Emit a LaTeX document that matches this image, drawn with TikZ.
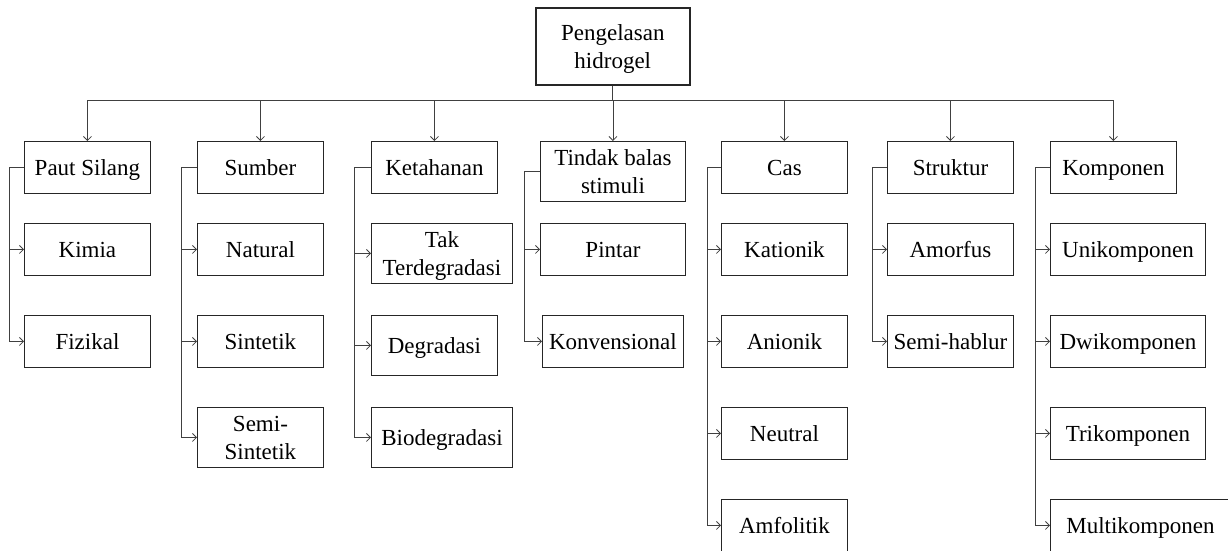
\documentclass[tikz,border=0pt]{standalone}
\usepackage{fontspec}
\setmainfont{Liberation Serif}
\usetikzlibrary{positioning, arrows.meta}

\begin{document}
\begin{tikzpicture}[
    x=1pt, y=-1pt,
    >={Straight Barb[length=4pt,width=8pt]},
    every node/.style={font=\fontsize{23}{28}\selectfont},
    box/.style={
      rectangle, anchor=north west,
      draw=black!85, line width=0.9pt,
      minimum width=#1, minimum height=52pt,
      text height=15.5pt, text depth=0pt,
      inner sep=0pt, align=center,
    },
    box/.default=126pt,
    tall/.style={minimum height=60pt},
    twoline/.style={text height=43.5pt},
    link/.style={->, draw=black!75, line width=0.8pt},
  ]
  \useasboundingbox (0,0) rectangle (1228,550);

  \node[box=154pt, twoline, minimum height=77pt, line width=1.6pt] (root) at (535,7)
    {Pengelasan\\hidrogel};

  % first level
  \node[box] (paut) at (24,141) {Paut Silang};
  \node[box] (sumber) at (197,141) {Sumber};
  \node[box] (ketahanan) at (371,141) {Ketahanan};
  \node[box=145pt, tall, twoline] (tindak) at (540,141) {Tindak balas\\stimuli};
  \node[box] (cas) at (721,141) {Cas};
  \node[box] (struktur) at (887,141) {Struktur};
  \node[box] (komponen) at (1050,141) {Komponen};

  % second level
  \node[box] (kimia) at (24,223) {Kimia};
  \node[box] (fizikal) at (24,315) {Fizikal};

  \node[box] (natural) at (197,223) {Natural};
  \node[box] (sintetik) at (197,315) {Sintetik};
  \node[box, tall, twoline] (semisintetik) at (197,407) {Semi-\\Sintetik};

  \node[box=141pt, tall, twoline] (takdegr) at (371,223) {Tak\\Terdegradasi};
  \node[box, tall] (degradasi) at (371,315) {Degradasi};
  \node[box=141pt, tall] (biodegr) at (371,407) {Biodegradasi};

  \node[box=145pt] (pintar) at (540,223) {Pintar};
  \node[box=141pt] (konvensional) at (542,315) {Konvensional};

  \node[box] (kationik) at (721,223) {Kationik};
  \node[box] (anionik) at (721,315) {Anionik};
  \node[box] (neutral) at (721,407) {Neutral};
  \node[box] (amfolitik) at (721,499) {Amfolitik};

  \node[box] (amorfus) at (887,223) {Amorfus};
  \node[box] (semihablur) at (887,315) {Semi-hablur};

  \node[box=155pt] (unikomp) at (1050,223) {Unikomponen};
  \node[box=155pt] (dwikomp) at (1050,315) {Dwikomponen};
  \node[box=155pt] (trikomp) at (1050,407) {Trikomponen};
  \node[box=180pt] (multikomp) at (1050,499) {Multikomponen};

  % connectors
  \foreach \c in {paut, sumber, ketahanan, tindak, cas, struktur, komponen}
    \draw[link] (root.south) -- ++(0,15) -| (\c.north);

  \foreach \c in {kimia, fizikal}
    \draw[link] (paut.west) -- ++(-15,0) |- (\c.west);
  \foreach \c in {natural, sintetik, semisintetik}
    \draw[link] (sumber.west) -- ++(-16,0) |- (\c.west);
  \foreach \c in {takdegr, degradasi, biodegr}
    \draw[link] (ketahanan.west) -- ++(-17,0) |- (\c.west);
  \foreach \c in {pintar, konvensional}
    \draw[link] (tindak.west) -- ++(-16,0) |- (\c.west);
  \foreach \c in {kationik, anionik, neutral, amfolitik}
    \draw[link] (cas.west) -- ++(-14,0) |- (\c.west);
  \foreach \c in {amorfus, semihablur}
    \draw[link] (struktur.west) -- ++(-15,0) |- (\c.west);
  \foreach \c in {unikomp, dwikomp, trikomp, multikomp}
    \draw[link] (komponen.west) -- ++(-15,0) |- (\c.west);
\end{tikzpicture}
\end{document}
